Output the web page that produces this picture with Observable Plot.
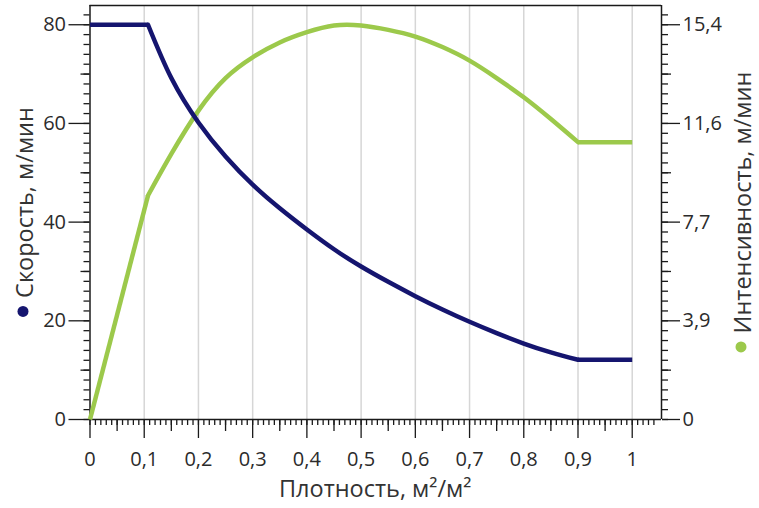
<!DOCTYPE html>
<html>
<head>
<meta charset="utf-8">
<script src="https://cdn.jsdelivr.net/npm/d3@7"></script>
<script src="https://cdn.jsdelivr.net/npm/@observablehq/plot@0.6"></script>
<style>
  body { margin: 0; background: #fff; }
  svg { display: block; }
</style>
</head>
<body>
<div id="chart"></div>
<script>
// Pedestrian flow: speed and intensity versus density
const density   = [0, 0.107, 0.15, 0.2, 0.25, 0.3, 0.35, 0.4, 0.45, 0.5, 0.55, 0.6, 0.65, 0.7, 0.75, 0.8, 0.85, 0.9, 1.0];
const speed     = [80, 80, 69.2, 60.2, 53.3, 47.6, 42.8, 38.5, 34.5, 31.0, 27.9, 25.0, 22.3, 19.8, 17.5, 15.4, 13.6, 12.1, 12.1];
const intensity = [0, 8.74, 10.36, 12.05, 13.32, 14.13, 14.71, 15.11, 15.37, 15.37, 15.2, 14.94, 14.53, 14.0, 13.32, 12.57, 11.72, 10.82, 10.82];

// indices where the curves change regime (free flow / dense flow / congestion)
const breaks = [1, 17];

const xTicks = [0, 0.1, 0.2, 0.3, 0.4, 0.5, 0.6, 0.7, 0.8, 0.9, 1];
const speedTicks = [0, 20, 40, 60, 80];
const intensityTicks = [0, 3.85, 7.7, 11.55, 15.4];
const intensityTickLabels = ["0", "3,9", "7,7", "11,6", "15,4"];

const xTitle = "Плотность, м²/м²";
const speedTitle = "Скорость, м/мин";
const intensityTitle = "Интенсивность, м/мин";

const speedColor = "#15156f";
const intensityColor = "#9cc94b";

const X_MAX = 1.054;
const Y_MAX = 83.9;
// the intensity axis shares the plot area: 15.4 on the right sits level with 80 on the left
const k = 80 / 15.4;

const fmt = d => String(+d.toFixed(2)).replace(".", ",");

function curvePart(values, scale = 1) {
  const rows = [];
  for (let i = breaks[0]; i <= breaks[1]; i++) rows.push({x: density[i], y: values[i] * scale});
  return rows;
}
function straightParts(values, scale = 1) {
  const rows = [];
  [[0, breaks[0]], [breaks[1], density.length - 1]].forEach(([a, b], p) => {
    for (let i = a; i <= b; i++) rows.push({x: density[i], y: values[i] * scale, part: p});
  });
  return rows;
}

const intensityLabel = new Map(intensityTicks.map((t, i) => [t * k, intensityTickLabels[i]]));

const minorY = d3.range(0, 84, 2);
const midY = d3.range(10, 84, 20);
const minorX = d3.range(0, 105).map(i => i / 100);
const midX = d3.range(0, 10).map(i => (i * 10 + 5) / 100);
const gridX = xTicks.filter(d => d > 0);

const axisColor = "#1a1a1a";

const svg = Plot.plot({
  width: 759,
  height: 508,
  marginLeft: 89.5,
  marginRight: 98,
  marginTop: 5,
  marginBottom: 89,
  x: {domain: [0, X_MAX]},
  y: {domain: [0, Y_MAX]},
  style: {fontFamily: "'Open Sans', sans-serif", fontSize: "20px", color: "#2b2b2b", background: "#fff"},
  marks: [
    Plot.ruleX(gridX, {stroke: "#d6d6d6", strokeWidth: 1.5}),

    // left (speed) axis
    Plot.axisY({anchor: "left", ticks: minorY, tickSize: 6, tickFormat: () => "", label: null, stroke: axisColor, strokeWidth: 1.3}),
    Plot.axisY({anchor: "left", ticks: midY, tickSize: 9, tickFormat: () => "", label: null, stroke: axisColor, strokeWidth: 1.3}),
    Plot.axisY({anchor: "left", ticks: speedTicks, tickSize: 21, tickPadding: 3, tickFormat: d => String(d), label: null, stroke: axisColor, strokeWidth: 1.3}),

    // right (intensity) axis
    Plot.axisY({anchor: "right", ticks: minorY, tickSize: 6, tickFormat: () => "", label: null, stroke: axisColor, strokeWidth: 1.3}),
    Plot.axisY({anchor: "right", ticks: midY, tickSize: 9, tickFormat: () => "", label: null, stroke: axisColor, strokeWidth: 1.3}),
    Plot.axisY({anchor: "right", ticks: intensityTicks.map(t => t * k), tickSize: 18, tickPadding: 3,
      tickFormat: d => intensityLabel.get(d), label: null, stroke: axisColor, strokeWidth: 1.3}),

    // density axis
    Plot.axisX({anchor: "bottom", ticks: minorX, tickSize: 6, tickFormat: () => "", label: null, stroke: axisColor, strokeWidth: 1.3}),
    Plot.axisX({anchor: "bottom", ticks: midX, tickSize: 12, tickFormat: () => "", label: null, stroke: axisColor, strokeWidth: 1.3}),
    Plot.axisX({anchor: "bottom", ticks: xTicks, tickSize: 19, tickPadding: 13, tickFormat: fmt, label: null, stroke: axisColor, strokeWidth: 1.3}),

    // plot frame
    Plot.ruleX([0, X_MAX], {stroke: axisColor, strokeWidth: 1.5}),
    Plot.ruleY([0, Y_MAX], {stroke: axisColor, strokeWidth: 1.5}),

    // intensity
    Plot.line(straightParts(intensity, k), {x: "x", y: "y", z: "part", stroke: intensityColor, strokeWidth: 4.5, strokeLinecap: "butt"}),
    Plot.line(curvePart(intensity, k), {x: "x", y: "y", stroke: intensityColor, strokeWidth: 4.5, curve: "natural", strokeLinecap: "round"}),

    // speed
    Plot.line(straightParts(speed), {x: "x", y: "y", z: "part", stroke: speedColor, strokeWidth: 4.5, strokeLinecap: "butt"}),
    Plot.line(curvePart(speed), {x: "x", y: "y", stroke: speedColor, strokeWidth: 4.5, curve: "natural", strokeLinecap: "round"})
  ]
});

document.getElementById("chart").append(svg);

// axis titles with coloured series markers
const root = d3.select(svg);
const titleFont = {family: "'Open Sans', sans-serif", size: 23.5, color: "#333"};

root.append("text")
  .attr("x", (89.5 + 661) / 2)
  .attr("y", 497)
  .attr("text-anchor", "middle")
  .attr("font-family", titleFont.family)
  .attr("font-size", titleFont.size)
  .attr("fill", titleFont.color)
  .text(xTitle);

function verticalTitle(baselineX, centerY, label, color) {
  const g = root.append("g").attr("transform", `translate(${baselineX},${centerY}) rotate(-90)`);
  const t = g.append("text")
    .attr("text-anchor", "start")
    .attr("font-family", titleFont.family)
    .attr("font-size", titleFont.size)
    .attr("fill", titleFont.color)
    .text(label);
  const len = t.node().getComputedTextLength();
  const r = 5.5, gap = 8;
  const total = 2 * r + gap + len;
  g.append("circle").attr("cx", -total / 2 + r).attr("cy", -10).attr("r", r).attr("fill", color);
  t.attr("x", -total / 2 + 2 * r + gap);
}

verticalTitle(33, 212, speedTitle, speedColor);
verticalTitle(751, 212, intensityTitle, intensityColor);
</script>
</body>
</html>
